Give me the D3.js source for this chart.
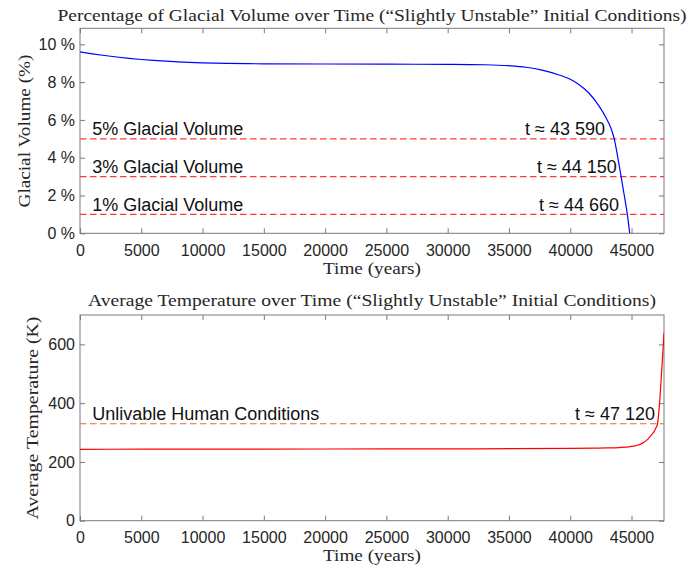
<!DOCTYPE html>
<html>
<head>
<meta charset="utf-8">
<script src="https://cdn.jsdelivr.net/npm/d3@7"></script>
<style>
  body { margin: 0; background: #fff; }
  text { font-family: "Liberation Sans", Arial, sans-serif; }
  .serif { font-family: "Liberation Serif", "DejaVu Serif", serif; fill: #262626; }
</style>
</head>
<body>
<svg id="fig" width="688" height="569"></svg>
<script>
// Glacial volume (% of surface) over time
const glacialYears   = [0, 1000, 2000, 3000, 4000, 5000, 6000, 8000, 10000, 12000, 15000, 20000, 25000, 30000, 33000, 35000, 36400, 37700, 39100, 40000, 40700, 41500, 42300, 42950, 43300, 43450, 43590, 43870, 44150, 44410, 44660, 44850];
const glacialPercent = [9.6, 9.5, 9.41, 9.33, 9.26, 9.2, 9.15, 9.07, 9.02, 8.99, 8.97, 8.96, 8.95, 8.94, 8.92, 8.87, 8.79, 8.64, 8.38, 8.15, 7.88, 7.44, 6.78, 6.08, 5.6, 5.32, 5.0, 4.05, 3.0, 2.0, 1.0, 0];

// Average temperature (K) over time
const tempYears  = [0, 5000, 10000, 20000, 30000, 35000, 40000, 42000, 43000, 44000, 44800, 45400, 45900, 46300, 46600, 46850, 47000, 47120, 47250, 47400, 47550, 47650];
const tempKelvin = [243, 243.3, 243.6, 244, 244.5, 245, 246, 246.8, 247.5, 249, 251.5, 256, 264, 276, 290, 304, 316, 330, 380, 470, 570, 640];

const timeTicks    = [0, 5000, 10000, 15000, 20000, 25000, 30000, 35000, 40000, 45000];
const glacialTicks = [0, 2, 4, 6, 8, 10];
const tempTicks    = [0, 200, 400, 600];

// Threshold lines and their annotations
const volumeThresholds = [5, 3, 1];
const thresholdLabels  = ["5% Glacial Volume", "3% Glacial Volume", "1% Glacial Volume"];
const crossingLabels   = ["t \u2248 43 590", "t \u2248 44 150", "t \u2248 44 660"];
const crossingLabelAt  = [42840, 43800, 43980];
const unlivableK       = 330;
const unlivableLabel   = "Unlivable Human Conditions";
const unlivableCross   = "t \u2248 47 120";
const unlivableLabelAt = 46920;

const tMax = 47650;
const svg = d3.select("#fig");
const axisColor = "#7a7a7a";
const labelColor = "#262626";

function panel(box, yMax, yTicks, yFmt) {
  const x = d3.scaleLinear().domain([0, tMax]).range([box.left, box.right]);
  const y = d3.scaleLinear().domain([0, yMax]).range([box.bottom, box.top]);
  const g = svg.append("g");

  const styleAxis = sel => {
    sel.select(".domain").remove();
    sel.selectAll(".tick line").attr("stroke", axisColor);
    sel.selectAll(".tick text").attr("fill", labelColor)
      .style("font-family", '"Liberation Sans", Arial, sans-serif').style("font-size", "16px");
  };

  g.append("g").attr("transform", `translate(0,${box.bottom})`)
    .call(d3.axisBottom(x).tickValues(timeTicks).tickFormat(d3.format("d")).tickSize(-5).tickPadding(11))
    .call(styleAxis);
  g.append("g").attr("transform", `translate(0,${box.top})`)
    .call(d3.axisTop(x).tickValues(timeTicks).tickFormat("").tickSize(-5))
    .call(styleAxis);
  g.append("g").attr("transform", `translate(${box.left},0)`)
    .call(d3.axisLeft(y).tickValues(yTicks).tickFormat(yFmt).tickSize(-5).tickPadding(5))
    .call(styleAxis);
  g.append("g").attr("transform", `translate(${box.right},0)`)
    .call(d3.axisRight(y).tickValues(yTicks).tickFormat("").tickSize(-5))
    .call(styleAxis);

  g.append("rect")
    .attr("x", box.left).attr("y", box.top)
    .attr("width", box.right - box.left).attr("height", box.bottom - box.top)
    .attr("fill", "none").attr("stroke", axisColor).attr("stroke-width", 1);

  const clipId = "clip" + Math.round(box.top);
  svg.append("clipPath").attr("id", clipId).append("rect")
    .attr("x", box.left).attr("y", box.top)
    .attr("width", box.right - box.left).attr("height", box.bottom - box.top);
  const plot = g.append("g").attr("clip-path", `url(#${clipId})`);
  return { x, y, g, plot };
}

// ---- Upper panel: glacial volume ----
const volPanel = panel({ left: 80, right: 664, top: 28.3, bottom: 233.3 }, 10.85, glacialTicks, d => d + " %");

volumeThresholds.forEach((v, i) => {
  volPanel.plot.append("line")
    .attr("x1", volPanel.x(0)).attr("x2", volPanel.x(tMax))
    .attr("y1", volPanel.y(v)).attr("y2", volPanel.y(v))
    .attr("stroke", "#ff3a3a").attr("stroke-width", 1.4).attr("stroke-dasharray", "6.5,3.5");
  volPanel.g.append("text").attr("x", volPanel.x(1000)).attr("y", volPanel.y(v) - 3.5)
    .attr("fill", "#111").style("font-size", "18px").text(thresholdLabels[i]);
  volPanel.g.append("text").attr("x", volPanel.x(crossingLabelAt[i])).attr("y", volPanel.y(v) - 3.5)
    .attr("text-anchor", "end").attr("fill", "#111").style("font-size", "18px").text(crossingLabels[i]);
});

const glacialLine = d3.line().curve(d3.curveMonotoneX)
  .x((d, i) => volPanel.x(glacialYears[i])).y(d => volPanel.y(d));
volPanel.plot.append("path").datum(glacialPercent)
  .attr("d", glacialLine).attr("fill", "none").attr("stroke", "#0000ff").attr("stroke-width", 1.2);

svg.append("text").attr("class", "serif").attr("x", 372).attr("y", 21)
  .attr("text-anchor", "middle").style("font-size", "17.5px")
  .attr("textLength", 629).attr("lengthAdjust", "spacingAndGlyphs")
  .text("Percentage of Glacial Volume over Time (\u201CSlightly Unstable\u201D Initial Conditions)");
svg.append("text").attr("class", "serif").attr("x", 372).attr("y", 274)
  .attr("text-anchor", "middle").style("font-size", "17.5px")
  .attr("textLength", 98).attr("lengthAdjust", "spacingAndGlyphs")
  .text("Time (years)");
svg.append("text").attr("class", "serif")
  .attr("transform", "translate(30,131) rotate(-90)")
  .attr("text-anchor", "middle").style("font-size", "17.5px")
  .attr("textLength", 153).attr("lengthAdjust", "spacingAndGlyphs")
  .text("Glacial Volume (%)");

// ---- Lower panel: average temperature ----
const tempPanel = panel({ left: 80, right: 664, top: 315, bottom: 520.7 }, 700, tempTicks, d3.format("d"));

tempPanel.plot.append("line")
  .attr("x1", tempPanel.x(0)).attr("x2", tempPanel.x(tMax))
  .attr("y1", tempPanel.y(unlivableK)).attr("y2", tempPanel.y(unlivableK))
  .attr("stroke", "#d9703f").attr("stroke-width", 1.1).attr("stroke-dasharray", "6.5,3.5");
tempPanel.g.append("text").attr("x", tempPanel.x(1000)).attr("y", tempPanel.y(unlivableK) - 3.5)
  .attr("fill", "#111").style("font-size", "18px").text(unlivableLabel);
tempPanel.g.append("text").attr("x", tempPanel.x(unlivableLabelAt)).attr("y", tempPanel.y(unlivableK) - 3.5)
  .attr("text-anchor", "end").attr("fill", "#111").style("font-size", "18px").text(unlivableCross);

const tempLine = d3.line().curve(d3.curveMonotoneX)
  .x((d, i) => tempPanel.x(tempYears[i])).y(d => tempPanel.y(d));
tempPanel.plot.append("path").datum(tempKelvin)
  .attr("d", tempLine).attr("fill", "none").attr("stroke", "#ff0000").attr("stroke-width", 1.2);

svg.append("text").attr("class", "serif").attr("x", 372).attr("y", 306)
  .attr("text-anchor", "middle").style("font-size", "17.5px")
  .attr("textLength", 568).attr("lengthAdjust", "spacingAndGlyphs")
  .text("Average Temperature over Time (\u201CSlightly Unstable\u201D Initial Conditions)");
svg.append("text").attr("class", "serif").attr("x", 372).attr("y", 560.5)
  .attr("text-anchor", "middle").style("font-size", "17.5px")
  .attr("textLength", 98).attr("lengthAdjust", "spacingAndGlyphs")
  .text("Time (years)");
svg.append("text").attr("class", "serif")
  .attr("transform", "translate(38,418) rotate(-90)")
  .attr("text-anchor", "middle").style("font-size", "17.5px")
  .attr("textLength", 203).attr("lengthAdjust", "spacingAndGlyphs")
  .text("Average Temperature (K)");
</script>
</body>
</html>
